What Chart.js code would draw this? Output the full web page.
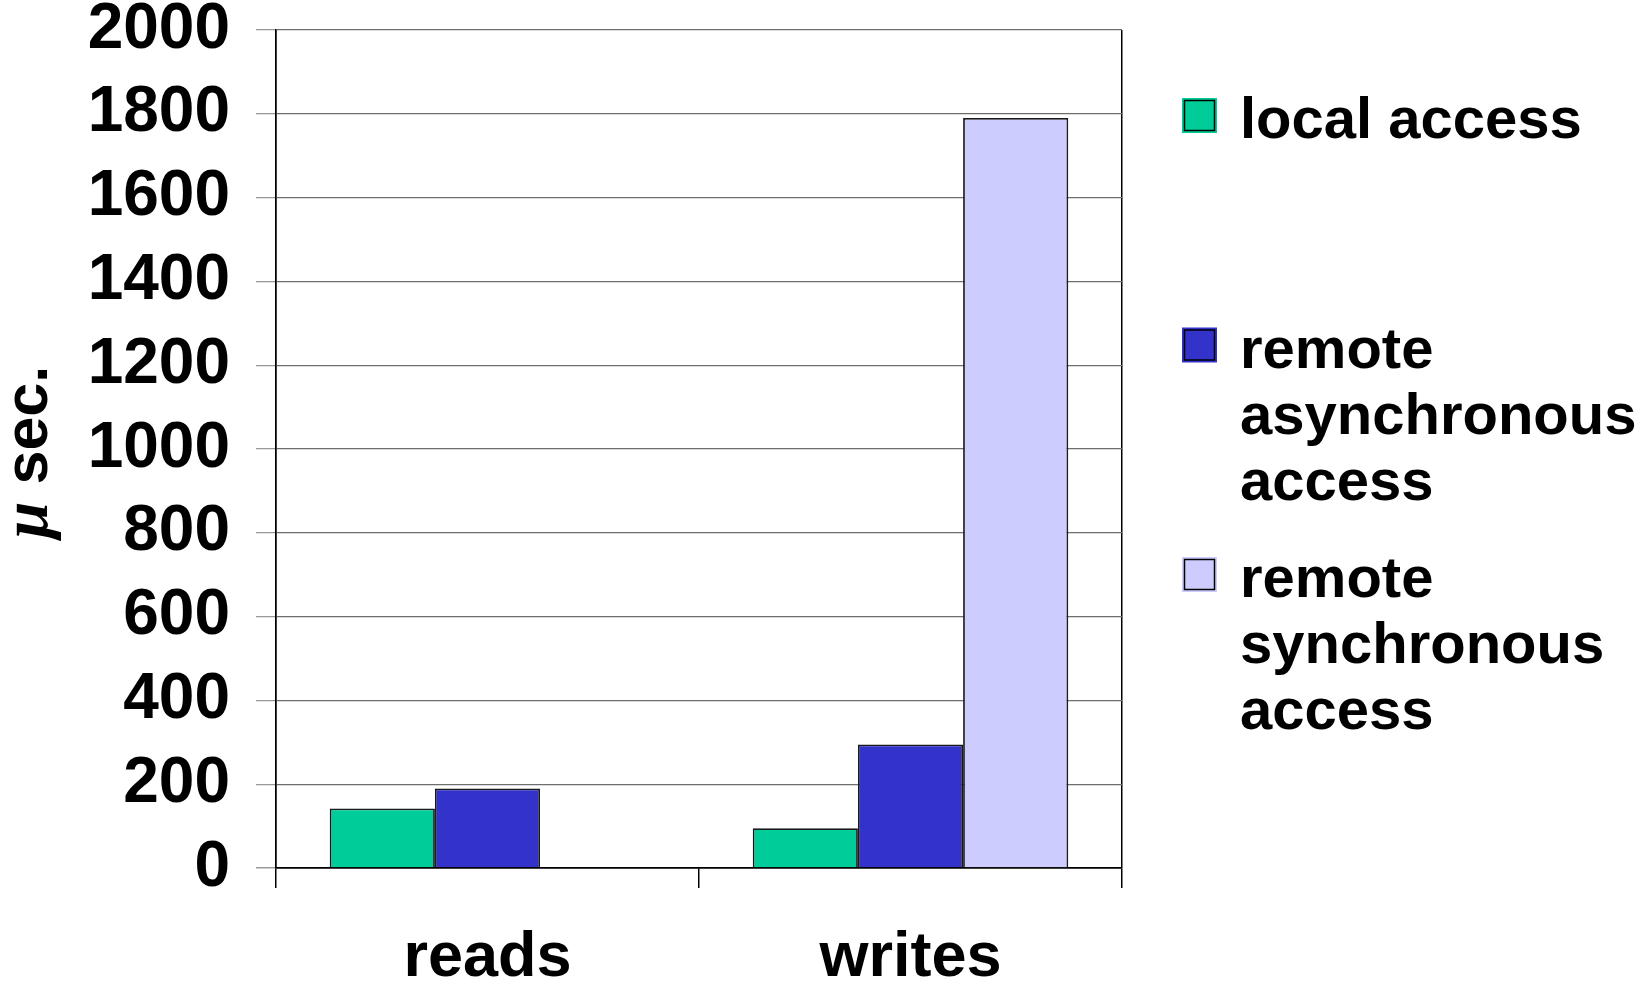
<!DOCTYPE html>
<html>
<head>
<meta charset="utf-8">
<script src="https://cdn.jsdelivr.net/npm/chart.js@4.4.1/dist/chart.umd.min.js"></script>
<style>
  html, body { margin: 0; padding: 0; background: #ffffff; }
  #wrap { position: relative; width: 1642px; height: 987px; }
</style>
</head>
<body>
<div id="wrap"><canvas id="c"></canvas></div>
<script>
// Access latency by operation, in microseconds
const categories = ['reads', 'writes'];
const seriesNames = ['local access', 'remote asynchronous access', 'remote synchronous access'];
const legendLines = [
  ['local access'],
  ['remote', 'asynchronous', 'access'],
  ['remote', 'synchronous', 'access']
];
const localAccess = [142, 95];
const remoteAsync = [190, 295];
const remoteSync = [null, 1790];
const seriesColors = ['#00CC99', '#3333CC', '#CCCCFF'];
const yTickValues = [0, 200, 400, 600, 800, 1000, 1200, 1400, 1600, 1800, 2000];
const yTitleSymbol = 'μ';
const yTitleText = ' sec.';

const FONT = "'Liberation Sans', Arial, sans-serif";

// Legend drawn to the right of the plot, one swatch per series, labels wrapped
const sideLegend = {
  id: 'sideLegend',
  afterDraw(chart) {
    const ctx = chart.ctx;
    ctx.save();
    chart.data.datasets.forEach((ds, i) => {
      const top = 98 + i * 229.5;
      ctx.fillStyle = ds.backgroundColor;
      ctx.fillRect(1182, top, 35, 35);
      ctx.strokeStyle = '#000';
      ctx.lineWidth = 1.5;
      ctx.strokeRect(1184.5, top + 2.5, 30, 30);
      ctx.fillStyle = '#000';
      ctx.font = 'bold 58px ' + FONT;
      ctx.textAlign = 'left';
      ctx.textBaseline = 'alphabetic';
      legendLines[i].forEach((line, j) => {
        ctx.fillText(line, 1240, 138 + i * 229.5 + j * 66);
      });
    });
    ctx.restore();
  }
};

// Rotated value-axis title with an italic mu
const yTitle = {
  id: 'yTitle',
  afterDraw(chart) {
    const ctx = chart.ctx;
    ctx.save();
    const symFont = "italic bold 66px 'Liberation Serif', 'DejaVu Serif', serif";
    const txtFont = 'bold 61px ' + FONT;
    ctx.font = symFont;
    const w1 = ctx.measureText(yTitleSymbol).width;
    ctx.font = txtFont;
    const w2 = ctx.measureText(yTitleText).width;
    const total = w1 + w2;
    ctx.translate(47, 452 + total / 2);
    ctx.rotate(-Math.PI / 2);
    ctx.fillStyle = '#000';
    ctx.textBaseline = 'alphabetic';
    ctx.textAlign = 'left';
    ctx.font = symFont;
    ctx.fillText(yTitleSymbol, 0, 0);
    ctx.font = txtFont;
    ctx.fillText(yTitleText, w1, 0);
    ctx.restore();
  }
};

const seriesData = [localAccess, remoteAsync, remoteSync];

new Chart(document.getElementById('c'), {
  type: 'bar',
  data: {
    labels: categories,
    datasets: seriesNames.map((name, i) => ({
      label: name,
      data: seriesData[i],
      backgroundColor: seriesColors[i],
      borderColor: '#1a1a1a',
      borderWidth: 1.8,
      barPercentage: 1.0,
      categoryPercentage: 0.746
    }))
  },
  options: {
    responsive: true,
    maintainAspectRatio: false,
    animation: false,
    layout: { padding: { top: 30, right: 520, left: 0, bottom: 0 } },
    plugins: {
      legend: { display: false },
      tooltip: { enabled: false },
      title: { display: false }
    },
    scales: {
      x: {
        offset: true,
        grid: {
          offset: true,
          display: true,
          drawOnChartArea: true,
          color: (c) => (c.index === 1 ? 'rgba(0,0,0,0)' : '#000'),
          tickColor: '#000',
          tickLength: 20,
          lineWidth: 1.5
        },
        border: { display: true, color: '#000', width: 1.5 },
        ticks: {
          color: '#000',
          padding: 33,
          font: { family: FONT, size: 63, weight: 'bold' }
        },
        afterFit(scale) {
          scale.height = 119;
          scale.paddingLeft = 0;
          scale.paddingRight = 0;
        }
      },
      y: {
        min: 0,
        max: 2000,
        afterBuildTicks(axis) {
          axis.ticks = yTickValues.map(v => ({ value: v }));
        },
        grid: {
          color: (c) => (c.tick && c.tick.value === 0 ? '#000' : '#6e6e6e'),
          tickColor: '#9a9a9a',
          tickLength: 20,
          lineWidth: (c) => (c.tick && c.tick.value === 0 ? 1.5 : 1.3)
        },
        border: { display: true, color: '#000', width: 1.5 },
        ticks: {
          color: '#000',
          padding: 26,
          font: { family: FONT, size: 64, weight: 'bold' },
          callback: (v) => String(v)
        },
        afterFit(scale) {
          scale.width = 276;
          scale.paddingTop = 0;
          scale.paddingBottom = 0;
        }
      }
    }
  },
  plugins: [sideLegend, yTitle]
});
</script>
</body>
</html>
